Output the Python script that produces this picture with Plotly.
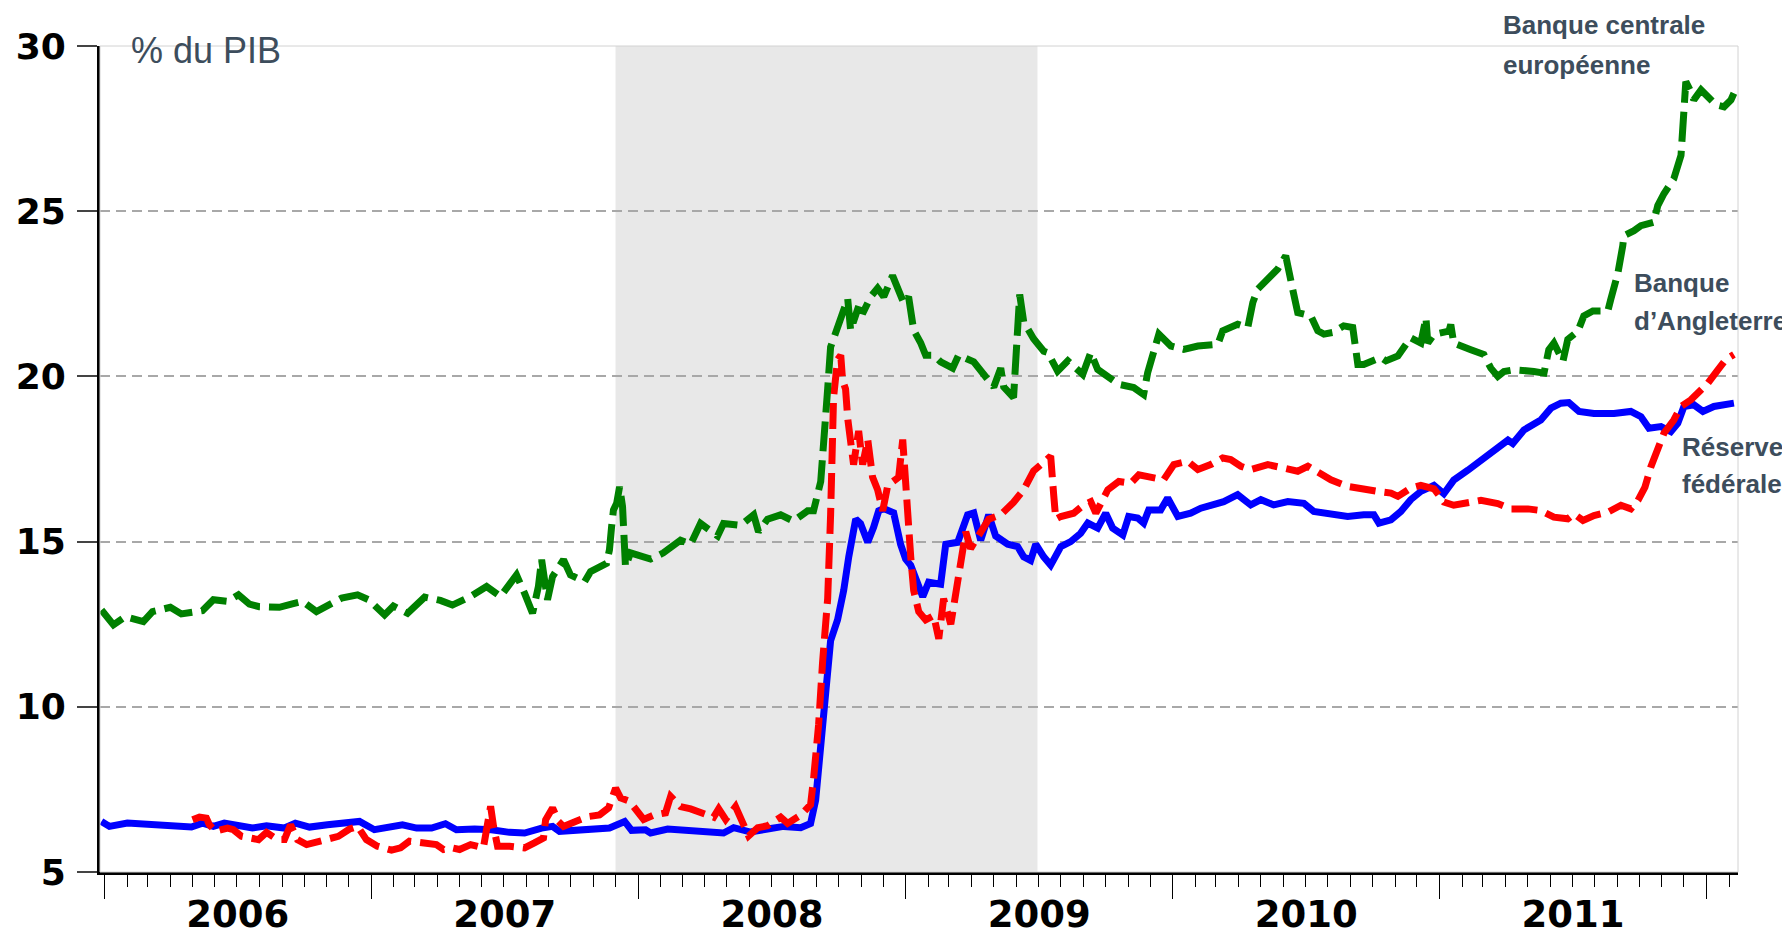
import pandas as pd
import plotly.graph_objects as go

# ---------------- data (dates as decimal years, values in % of GDP) ----------------
ecb_t = [2005.989, 2006.034, 2006.079, 2006.146, 2006.180, 2006.247, 2006.288, 2006.367, 2006.408, 2006.461,
         2006.502, 2006.543, 2006.580, 2006.655, 2006.700, 2006.742, 2006.794, 2006.850, 2006.888, 2006.948,
         2006.989, 2007.049, 2007.082, 2007.135, 2007.199, 2007.258, 2007.303, 2007.371, 2007.431, 2007.483,
         2007.543, 2007.573, 2007.603, 2007.625, 2007.637, 2007.659, 2007.678, 2007.719, 2007.745, 2007.798,
         2007.820, 2007.880, 2007.891, 2007.899, 2007.906, 2007.918, 2007.929, 2007.940, 2007.948, 2007.951,
         2007.970, 2008.045, 2008.093, 2008.157, 2008.195, 2008.232, 2008.296, 2008.318, 2008.382, 2008.431,
         2008.449, 2008.483, 2008.532, 2008.580, 2008.633, 2008.655, 2008.682, 2008.693, 2008.708, 2008.719,
         2008.745, 2008.768, 2008.783, 2008.794, 2008.820, 2008.843, 2008.869, 2008.895, 2008.918, 2008.951,
         2008.970, 2008.993, 2009.011, 2009.030, 2009.056, 2009.075, 2009.105, 2009.131, 2009.176, 2009.198,
         2009.255, 2009.307, 2009.330, 2009.356, 2009.367, 2009.404, 2009.412, 2009.419, 2009.427, 2009.442,
         2009.479, 2009.517, 2009.532, 2009.569, 2009.607, 2009.663, 2009.693, 2009.719, 2009.760, 2009.798,
         2009.854, 2009.891, 2009.906, 2009.929, 2009.948, 2009.993, 2010.041, 2010.094, 2010.169, 2010.187,
         2010.243, 2010.281, 2010.300, 2010.318, 2010.367, 2010.393, 2010.423, 2010.434, 2010.449, 2010.468,
         2010.517, 2010.543, 2010.566, 2010.599, 2010.640, 2010.674, 2010.693, 2010.715, 2010.779, 2010.798,
         2010.843, 2010.891, 2010.929, 2010.948, 2010.955, 2010.978, 2011.034, 2011.041, 2011.052, 2011.116,
         2011.165, 2011.191, 2011.217, 2011.240, 2011.277, 2011.352, 2011.390, 2011.408, 2011.427, 2011.461,
         2011.479, 2011.517, 2011.539, 2011.573, 2011.629, 2011.640, 2011.667, 2011.685, 2011.689, 2011.727,
         2011.753, 2011.801, 2011.816, 2011.839, 2011.876, 2011.903, 2011.910, 2011.921, 2011.940, 2011.951,
         2011.978, 2012.007, 2012.034, 2012.064, 2012.090, 2012.101]
ecb_v = [12.93, 12.48, 12.73, 12.58, 12.88, 13.01, 12.81, 12.91, 13.24, 13.19,
         13.39, 13.11, 13.03, 13.01, 13.11, 13.19, 12.88, 13.11, 13.29, 13.39,
         13.24, 12.78, 13.05, 12.83, 13.32, 13.22, 13.08, 13.34, 13.64, 13.34,
         13.99, 13.44, 12.83, 13.64, 14.45, 13.24, 13.94, 14.45, 13.99, 13.79,
         14.09, 14.34, 14.75, 15.45, 15.96, 16.16, 16.66, 16.06, 14.95, 14.24,
         14.66, 14.47, 14.66, 15.04, 14.92, 15.55, 15.17, 15.55, 15.49, 15.81,
         15.30, 15.68, 15.81, 15.62, 15.93, 15.93, 16.82, 17.84, 19.62, 20.89,
         21.52, 21.91, 22.35, 21.40, 22.03, 21.97, 22.41, 22.67, 22.41, 23.05,
         22.67, 22.22, 22.41, 21.40, 21.02, 20.64, 20.64, 20.44, 20.25, 20.64,
         20.44, 19.87, 19.68, 20.25, 19.68, 19.36, 20.51, 21.52, 22.48, 21.65,
         21.14, 20.76, 20.72, 20.16, 20.47, 20.06, 20.72, 20.21, 19.96, 19.76,
         19.66, 19.45, 20.11, 20.82, 21.28, 20.92, 20.82, 20.92, 20.97, 21.38,
         21.58, 21.48, 22.24, 22.64, 23.00, 23.25, 23.65, 23.15, 22.64, 21.93,
         21.83, 21.38, 21.28, 21.33, 21.53, 21.48, 20.36, 20.36, 20.57, 20.47,
         20.62, 21.17, 21.01, 21.77, 21.01, 21.27, 21.37, 21.57, 21.01, 20.81,
         20.66, 20.25, 20.00, 20.15, 20.20, 20.15, 20.10, 20.81, 21.01, 20.46,
         21.12, 21.37, 21.83, 21.98, 21.98, 22.33, 23.14, 23.96, 24.26, 24.41,
         24.56, 24.67, 25.17, 25.53, 25.98, 26.69, 27.71, 28.92, 28.62, 28.37,
         28.67, 28.42, 28.22, 28.16, 28.37, 28.57]

fed_t = [2005.989, 2006.019, 2006.086, 2006.154, 2006.288, 2006.326, 2006.367, 2006.408, 2006.449, 2006.502,
         2006.554, 2006.607, 2006.674, 2006.715, 2006.768, 2006.835, 2006.903, 2006.955, 2007.011, 2007.064,
         2007.116, 2007.169, 2007.225, 2007.277, 2007.318, 2007.386, 2007.449, 2007.517, 2007.573, 2007.637,
         2007.678, 2007.704, 2007.760, 2007.824, 2007.891, 2007.948, 2007.974, 2008.026, 2008.045, 2008.109,
         2008.169, 2008.232, 2008.318, 2008.356, 2008.419, 2008.483, 2008.543, 2008.607, 2008.644, 2008.663,
         2008.682, 2008.700, 2008.719, 2008.745, 2008.768, 2008.787, 2008.813, 2008.831, 2008.858, 2008.880,
         2008.899, 2008.918, 2008.955, 2008.981, 2009.000, 2009.019, 2009.045, 2009.064, 2009.086, 2009.131,
         2009.150, 2009.195, 2009.232, 2009.255, 2009.281, 2009.311, 2009.337, 2009.382, 2009.419, 2009.442,
         2009.468, 2009.487, 2009.517, 2009.543, 2009.581, 2009.618, 2009.655, 2009.682, 2009.719, 2009.749,
         2009.775, 2009.813, 2009.835, 2009.869, 2009.891, 2009.910, 2009.955, 2009.981, 2010.019, 2010.067,
         2010.105, 2010.154, 2010.191, 2010.243, 2010.292, 2010.330, 2010.378, 2010.431, 2010.491, 2010.528,
         2010.592, 2010.655, 2010.715, 2010.753, 2010.772, 2010.817, 2010.854, 2010.891, 2010.929, 2010.978,
         2011.015, 2011.052, 2011.105, 2011.154, 2011.217, 2011.255, 2011.273, 2011.315, 2011.378, 2011.416,
         2011.453, 2011.483, 2011.521, 2011.577, 2011.652, 2011.715, 2011.753, 2011.783, 2011.828, 2011.865,
         2011.891, 2011.914, 2011.951, 2011.985, 2012.026, 2012.079, 2012.101]
fed_v = [6.53, 6.38, 6.48, 6.46, 6.40, 6.36, 6.48, 6.38, 6.48, 6.41,
         6.33, 6.40, 6.33, 6.48, 6.36, 6.43, 6.46, 6.53, 6.28, 6.38,
         6.43, 6.33, 6.33, 6.46, 6.28, 6.30, 6.28, 6.20, 6.18, 6.33,
         6.38, 6.23, 6.26, 6.33, 6.33, 6.53, 6.26, 6.28, 6.18, 6.30,
         6.28, 6.21, 6.18, 6.34, 6.21, 6.30, 6.38, 6.34, 6.47, 7.17,
         8.82, 10.72, 12.00, 12.63, 13.52, 14.54, 15.68, 15.55, 14.98, 15.43,
         15.93, 16.00, 15.87, 14.92, 14.47, 14.28, 13.65, 13.33, 13.77, 13.71,
         14.92, 14.98, 15.81, 15.87, 15.04, 15.81, 15.17, 14.92, 14.85, 14.54,
         14.43, 14.92, 14.54, 14.29, 14.85, 15.00, 15.25, 15.56, 15.41, 15.86,
         15.41, 15.20, 15.76, 15.71, 15.56, 15.96, 15.96, 16.32, 15.76, 15.86,
         16.01, 16.11, 16.21, 16.42, 16.11, 16.27, 16.11, 16.21, 16.16, 15.91,
         15.81, 15.76, 15.81, 15.81, 15.56, 15.66, 15.91, 16.27, 16.52, 16.70,
         16.45, 16.86, 17.16, 17.46, 17.87, 18.07, 17.97, 18.38, 18.68, 19.04,
         19.19, 19.21, 18.94, 18.88, 18.88, 18.94, 18.78, 18.43, 18.48, 18.33,
         18.58, 19.09, 19.14, 18.94, 19.09, 19.14, 19.19]

boe_t = [2006.330, 2006.356, 2006.382, 2006.393, 2006.416, 2006.461, 2006.483, 2006.513, 2006.577, 2006.607,
         2006.648, 2006.674, 2006.697, 2006.723, 2006.757, 2006.824, 2006.876, 2006.918, 2006.948, 2006.981,
         2007.022, 2007.075, 2007.109, 2007.142, 2007.199, 2007.243, 2007.270, 2007.303, 2007.330, 2007.371,
         2007.419, 2007.431, 2007.446, 2007.457, 2007.472, 2007.517, 2007.573, 2007.610, 2007.644, 2007.652,
         2007.678, 2007.700, 2007.719, 2007.764, 2007.813, 2007.854, 2007.888, 2007.914, 2007.933, 2007.966,
         2008.000, 2008.019, 2008.056, 2008.101, 2008.120, 2008.157, 2008.195, 2008.243, 2008.281, 2008.300,
         2008.326, 2008.363, 2008.382, 2008.412, 2008.446, 2008.483, 2008.532, 2008.558, 2008.607, 2008.644,
         2008.655, 2008.674, 2008.689, 2008.708, 2008.719, 2008.727, 2008.730, 2008.745, 2008.757, 2008.764,
         2008.775, 2008.783, 2008.794, 2008.805, 2008.824, 2008.839, 2008.858, 2008.876, 2008.895, 2008.914,
         2008.933, 2008.955, 2008.974, 2008.989, 2008.996, 2009.007, 2009.019, 2009.030, 2009.049, 2009.075,
         2009.105, 2009.124, 2009.142, 2009.169, 2009.187, 2009.206, 2009.225, 2009.243, 2009.281, 2009.311,
         2009.356, 2009.404, 2009.442, 2009.479, 2009.517, 2009.543, 2009.554, 2009.562, 2009.581, 2009.629,
         2009.667, 2009.693, 2009.712, 2009.757, 2009.798, 2009.843, 2009.873, 2009.925, 2009.966, 2010.004,
         2010.056, 2010.094, 2010.142, 2010.187, 2010.217, 2010.255, 2010.292, 2010.356, 2010.416, 2010.468,
         2010.506, 2010.554, 2010.592, 2010.655, 2010.715, 2010.768, 2010.817, 2010.843, 2010.891, 2010.929,
         2010.978, 2011.015, 2011.052, 2011.116, 2011.154, 2011.217, 2011.266, 2011.330, 2011.378, 2011.427,
         2011.479, 2011.502, 2011.536, 2011.577, 2011.629, 2011.678, 2011.715, 2011.742, 2011.768, 2011.790,
         2011.816, 2011.839, 2011.876, 2011.903, 2011.940, 2011.966, 2012.004, 2012.041, 2012.071, 2012.101]
boe_v = [6.58, 6.66, 6.63, 6.43, 6.23, 6.33, 6.28, 6.08, 5.98, 6.20,
         5.98, 5.98, 6.43, 5.98, 5.83, 5.96, 6.08, 6.30, 6.38, 5.98,
         5.78, 5.66, 5.73, 5.93, 5.88, 5.83, 5.68, 5.73, 5.68, 5.83,
         5.73, 6.18, 6.99, 6.38, 5.78, 5.78, 5.73, 5.88, 6.03, 6.58,
         6.94, 6.53, 6.38, 6.53, 6.68, 6.73, 6.94, 7.54, 7.24, 7.14,
         6.78, 6.59, 6.72, 6.79, 7.29, 6.98, 6.91, 6.79, 6.66, 6.91,
         6.59, 6.98, 6.66, 6.09, 6.34, 6.40, 6.66, 6.47, 6.72, 7.04,
         7.80, 9.45, 11.36, 13.27, 15.81, 17.71, 19.36, 20.51, 20.64, 19.87,
         19.62, 18.73, 17.97, 17.33, 18.35, 17.33, 18.09, 16.95, 16.57, 15.93,
         16.70, 16.82, 16.95, 18.09, 17.08, 15.81, 14.54, 13.52, 12.88, 12.63,
         12.76, 12.06, 13.27, 12.50, 13.52, 14.54, 15.30, 14.79, 15.30, 15.68,
         15.81, 16.19, 16.57, 17.14, 17.40, 17.59, 16.44, 15.68, 15.76, 15.86,
         16.11, 16.21, 15.86, 16.57, 16.82, 16.77, 17.02, 16.92, 16.87, 17.33,
         17.43, 17.18, 17.33, 17.53, 17.48, 17.28, 17.18, 17.33, 17.23, 17.13,
         17.28, 17.07, 16.87, 16.67, 16.57, 16.52, 16.47, 16.37, 16.62, 16.70,
         16.60, 16.20, 16.10, 16.20, 16.25, 16.15, 15.99, 15.99, 15.94, 15.74,
         15.69, 15.84, 15.64, 15.79, 15.89, 16.10, 15.99, 16.25, 16.65, 17.26,
         17.77, 18.28, 18.68, 19.09, 19.29, 19.49, 19.80, 20.20, 20.51, 20.66]

recession_start = "2007-12-01"
recession_end = "2009-06-30"
x_range = ["2005-12-26", "2012-02-13"]
y_range = [5, 30]
unit_label = "% du PIB"
label_ecb = ["Banque centrale", "européenne"]
label_boe = ["Banque", "d’Angleterre"]
label_fed = ["Réserve", "fédérale"]


def to_dates(years):
    base = pd.Timestamp("2006-01-01")
    return [base + pd.Timedelta(days=(y - 2006) * 365.25) for y in years]


fig = go.Figure()
fig.add_trace(go.Scatter(x=to_dates(fed_t), y=fed_v, mode="lines", name="Réserve fédérale",
                         line=dict(color="#0000ff", width=7)))
fig.add_trace(go.Scatter(x=to_dates(boe_t), y=boe_v, mode="lines", name="Banque d’Angleterre",
                         line=dict(color="#ff0000", width=7, dash="26px,9px")))
fig.add_trace(go.Scatter(x=to_dates(ecb_t), y=ecb_v, mode="lines", name="Banque centrale européenne",
                         line=dict(color="#008000", width=7, dash="30px,9px")))

# recession shading
fig.add_shape(type="rect", xref="x", yref="paper", x0=recession_start, x1=recession_end,
              y0=0, y1=1, fillcolor="#e8e8e8", line_width=0, layer="below")
# light frame top/right
fig.add_shape(type="rect", xref="paper", yref="paper", x0=0, x1=1, y0=0, y1=1,
              line=dict(color="#d2d2d2", width=1), layer="above")

txt_col = "#3d4d5c"
lab_font = dict(family="Liberation Sans, Arial", size=26, color=txt_col, weight="bold")
fig.add_annotation(text=unit_label, xref="paper", yref="paper", x=0.0177, y=0.995,
                   xanchor="left", yanchor="middle", showarrow=False,
                   font=dict(family="Liberation Sans, Arial", size=36, color=txt_col))

label_places = [
    (label_ecb, 0.8553, (1.0254, 0.977)),
    (label_boe, 0.9353, (0.7131, 0.6671)),
    (label_fed, 0.9646, (0.5145, 0.4697)),
]
for lines, xp, ys in label_places:
    for line, yp in zip(lines, ys):
        fig.add_annotation(text=line, xref="paper", yref="paper", x=xp, y=yp,
                           xanchor="left", yanchor="middle", showarrow=False, font=lab_font)

# page body has an 8px margin, so the figure is 8px smaller than the window
fig.update_layout(
    width=1782, height=926, autosize=False,
    margin=dict(l=92, r=52, t=38, b=62),
    paper_bgcolor="white", plot_bgcolor="white",
    showlegend=False,
    xaxis=dict(type="date", range=x_range, tick0="2006-01-01", dtick="M12",
               ticklabelmode="period", tickformat="%Y", ticks="outside", ticklen=24,
               tickwidth=1.3, tickcolor="#000000", showgrid=False, zeroline=False,
               showline=True, linecolor="#000000", linewidth=3, automargin=False,
               ticklabelstandoff=-16,
               tickfont=dict(family="DejaVu Sans", size=37, color="#000000", weight="bold"),
               minor=dict(dtick="M1", tick0="2006-01-01", ticks="outside", ticklen=12,
                          tickwidth=1.3, tickcolor="#000000", showgrid=False)),
    yaxis=dict(range=y_range, dtick=5, tick0=5, ticks="outside", ticklen=20, tickwidth=2,
               tickcolor="#444444", showgrid=True, gridcolor="#a8a8a8", gridwidth=1.5,
               griddash="10px,6px", zeroline=False, showline=True, linecolor="#000000",
               linewidth=3, automargin=False, ticklabelstandoff=4,
               tickfont=dict(family="DejaVu Sans", size=36, color="#000000", weight="bold")),
)

fig.write_html("out.html")
